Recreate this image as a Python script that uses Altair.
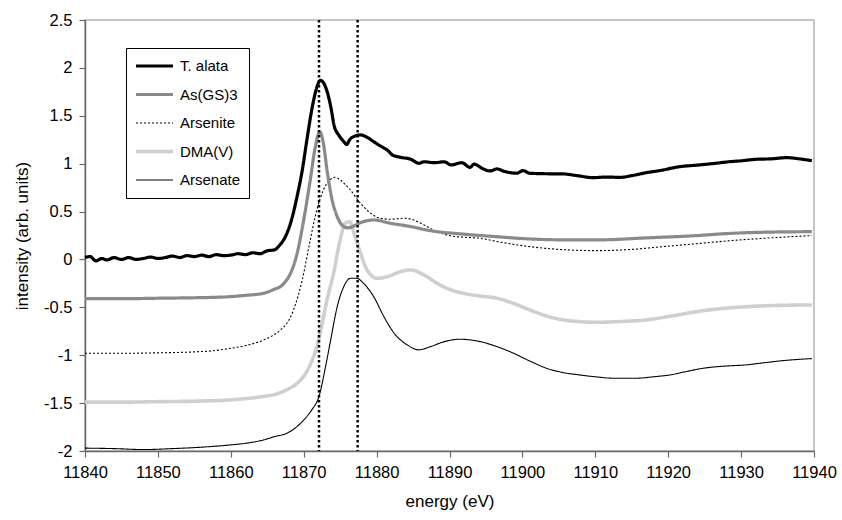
import altair as alt
import pandas as pd

# ---- spectra: energy (eV) and normalised intensity, one pair of arrays per sample ----
talata_e = [11840, 11840.7, 11841.5, 11842.3, 11843, 11844, 11845, 11846, 11847, 11848,
            11849, 11850, 11851, 11852, 11853, 11854, 11855, 11856, 11857, 11858,
            11859, 11860, 11861, 11862, 11863, 11864, 11865, 11866, 11866.6, 11867.5,
            11868.2, 11869.1, 11869.8, 11870.5, 11871.1, 11871.7, 11872.3, 11873, 11873.7, 11874.2,
            11874.8, 11875.5, 11875.9, 11876.3, 11877.1, 11877.8, 11878.7, 11879.6, 11880.5, 11881.5,
            11882.2, 11883.3, 11884.7, 11885.8, 11886.5, 11887.9, 11889.3, 11890.2, 11891.7, 11892.8,
            11893.4, 11894.5, 11895.6, 11896.5, 11897.5, 11899.2, 11900.1, 11901, 11903, 11905.6,
            11907.5, 11909.7, 11911.5, 11913.4, 11915, 11917, 11919, 11921.6, 11924, 11926,
            11928.5, 11930, 11932.1, 11934, 11936.3, 11938, 11939.7]
talata_i = [0.02, 0.03, -0.015, 0.01, -0.005, 0.02, 0.0, 0.02, 0.0, 0.01,
            0.025, 0.01, 0.02, 0.035, 0.02, 0.04, 0.03, 0.045, 0.03, 0.05,
            0.04, 0.045, 0.06, 0.05, 0.07, 0.06, 0.09, 0.10, 0.14, 0.24,
            0.38, 0.66, 0.93, 1.28, 1.56, 1.77, 1.87, 1.80, 1.60, 1.39,
            1.30, 1.23, 1.20, 1.25, 1.29, 1.30, 1.275, 1.23, 1.185, 1.14,
            1.09, 1.066, 1.046, 1.004, 1.02, 1.01, 1.02, 0.987, 1.01, 0.962,
            0.995, 0.95, 0.924, 0.945, 0.92, 0.90, 0.927, 0.90, 0.895, 0.893,
            0.875, 0.854, 0.86, 0.857, 0.875, 0.906, 0.93, 0.969, 0.985, 1.0,
            1.021, 1.03, 1.046, 1.05, 1.063, 1.05, 1.031]

asgs3_e = [11840, 11845, 11850, 11855, 11858, 11860, 11862, 11864.5, 11866, 11866.8,
           11867.5, 11868.2, 11869.1, 11870, 11870.9, 11871.6, 11872.2, 11872.7, 11873.2, 11873.9,
           11874.6, 11875.5, 11876.1, 11876.7, 11877.8, 11879.6, 11881.9, 11884.7, 11887.4, 11891.6,
           11896, 11901, 11905, 11910.2, 11917, 11923.9, 11928, 11933, 11939.7]
asgs3_i = [-0.41, -0.41, -0.405, -0.40, -0.395, -0.388, -0.375, -0.353, -0.31, -0.284,
           -0.23, -0.144, 0.064, 0.412, 0.83, 1.178, 1.334, 1.213, 0.934, 0.621,
           0.447, 0.343, 0.33, 0.343, 0.385, 0.412, 0.378, 0.343, 0.30, 0.266,
           0.24, 0.214, 0.205, 0.204, 0.225, 0.249, 0.27, 0.284, 0.29]

arsenite_e = [11840, 11845, 11850, 11855, 11858, 11860, 11862, 11864.5, 11866.8, 11868,
              11868.6, 11869.8, 11870.9, 11871.8, 11872.7, 11873.6, 11874.3, 11875, 11876.4, 11877.8,
              11879.2, 11880.5, 11881.9, 11883.8, 11885.1, 11886.5, 11888.3, 11890.2, 11892, 11894.2,
              11897, 11901, 11905, 11910.2, 11915, 11919.3, 11924, 11928.5, 11934, 11939.7]
arsenite_i = [-0.98, -0.98, -0.975, -0.965, -0.95, -0.927, -0.90, -0.84, -0.736, -0.63,
              -0.527, -0.214, 0.204, 0.517, 0.725, 0.83, 0.858, 0.83, 0.725, 0.586,
              0.482, 0.43, 0.42, 0.43, 0.412, 0.36, 0.29, 0.245, 0.232, 0.22,
              0.18, 0.134, 0.105, 0.092, 0.105, 0.134, 0.165, 0.196, 0.225, 0.249]

dma_e = [11840, 11845, 11850, 11855, 11860, 11864.5, 11866, 11867.7, 11869, 11870,
         11871, 11871.8, 11872.5, 11873.2, 11874.1, 11875, 11875.7, 11876.3, 11876.9, 11877.8,
         11878.7, 11880.1, 11881.5, 11883.3, 11884.7, 11886.5, 11888.3, 11890.2, 11891.9, 11894,
         11896.5, 11898.8, 11901, 11903.3, 11905.6, 11908, 11910.2, 11913.5, 11917, 11920.5,
         11923.9, 11927, 11930.8, 11935, 11939.7]
dma_i = [-1.49, -1.49, -1.485, -1.48, -1.466, -1.43, -1.41, -1.36, -1.30, -1.22,
         -1.08, -0.91, -0.68, -0.423, -0.144, 0.204, 0.378, 0.395, 0.273, 0.064,
         -0.11, -0.197, -0.179, -0.127, -0.11, -0.162, -0.249, -0.318, -0.353, -0.38,
         -0.405, -0.46, -0.527, -0.59, -0.631, -0.65, -0.656, -0.648, -0.631, -0.59,
         -0.545, -0.515, -0.493, -0.48, -0.475]

arsenate_e = [11840, 11844, 11848, 11852, 11856, 11860, 11862, 11864.5, 11866, 11867.7,
              11869, 11869.8, 11871.1, 11872.1, 11873, 11873.7, 11874.6, 11875.5, 11876.4, 11877.3,
              11878.2, 11879.6, 11881, 11882.4, 11884.2, 11885.8, 11887.4, 11889.3, 11891.4, 11894.2,
              11896.5, 11898.8, 11901, 11903.3, 11905.5, 11907.9, 11910, 11912.5, 11915.7, 11918,
              11920.2, 11922.5, 11924.8, 11927.5, 11930.8, 11933, 11935.8, 11939.7]
arsenate_i = [-1.97, -1.975, -1.985, -1.975, -1.96, -1.936, -1.92, -1.884, -1.85, -1.814,
              -1.75, -1.693, -1.571, -1.43, -1.118, -0.84, -0.492, -0.284, -0.197, -0.197,
              -0.249, -0.388, -0.597, -0.77, -0.892, -0.944, -0.91, -0.858, -0.833, -0.858,
              -0.91, -0.98, -1.06, -1.136, -1.18, -1.206, -1.225, -1.24, -1.24, -1.225,
              -1.206, -1.17, -1.136, -1.115, -1.10, -1.08, -1.056, -1.035]

# reference energies marked by dotted vertical lines
marker_energies = [11872.1, 11877.4]

series_names = ["T. alata", "As(GS)3", "Arsenite", "DMA(V)", "Arsenate"]
series_colors = ["#000000", "#8a8a8a", "#000000", "#cfcfcf", "#000000"]
series_widths = [3.2, 3.2, 1.1, 3.6, 1.1]
series_dashes = [[1, 0], [1, 0], [2, 2], [1, 0], [1, 0]]

spectra = [
    ("Arsenate", arsenate_e, arsenate_i),
    ("DMA(V)", dma_e, dma_i),
    ("Arsenite", arsenite_e, arsenite_i),
    ("As(GS)3", asgs3_e, asgs3_i),
    ("T. alata", talata_e, talata_i),
]
rows = []
for name, es, vals in spectra:
    for e, v in zip(es, vals):
        rows.append({"sample": name, "energy": e, "intensity": v})
df = pd.DataFrame(rows)
markers = pd.DataFrame({"energy": marker_energies})

x_scale = alt.Scale(domain=[11840, 11940], nice=False, zero=False)
y_scale = alt.Scale(domain=[-2, 2.5], nice=False, zero=False)

legend = alt.Legend(
    title=None, orient="none", legendX=41, legendY=28,
    symbolType="stroke", symbolSize=1369, clipHeight=20, rowPadding=8.5,
    labelFont="Liberation Sans", labelFontSize=15, labelColor="#000000",
    labelOffset=5, padding=8, strokeColor="#000000", fillColor="#ffffff",
)

lines = alt.Chart(df).mark_line(interpolate="monotone").encode(
    x=alt.X("energy:Q", scale=x_scale,
            axis=alt.Axis(title="energy (eV)", values=list(range(11840, 11941, 10)),
                          labelExpr="'' + datum.value", labelFlush=False, titlePadding=13)),
    y=alt.Y("intensity:Q", scale=y_scale,
            axis=alt.Axis(title="intensity (arb. units)",
                          values=[-2, -1.5, -1, -0.5, 0, 0.5, 1, 1.5, 2, 2.5],
                          labelExpr="'' + datum.value", labelFlush=False, titlePadding=12)),
    color=alt.Color("sample:N", scale=alt.Scale(domain=series_names, range=series_colors), legend=legend),
    strokeWidth=alt.StrokeWidth("sample:O", scale=alt.Scale(type="ordinal", domain=series_names, range=series_widths), legend=legend),
    strokeDash=alt.StrokeDash("sample:O", scale=alt.Scale(type="ordinal", domain=series_names, range=series_dashes), legend=legend),
    order=alt.Order("energy:Q"),
)

rules = alt.Chart(markers).mark_rule(color="#000000", strokeWidth=2.5, strokeDash=[2.5, 2.5]).encode(
    x=alt.X("energy:Q", scale=x_scale)
)

chart = alt.layer(lines, rules).properties(
    width=729, height=431,
    background="#ffffff",
    autosize=alt.AutoSizeParams(type="none"),
    padding={"left": 85, "top": 20, "right": 28, "bottom": 69},
).configure_view(
    stroke="#b4b4b4", strokeWidth=1.5
).configure_axis(
    domainColor="#6a6a6a", domainWidth=1.5, tickColor="#6a6a6a", tickWidth=1.2, tickSize=6,
    grid=False, labelFont="Liberation Sans", labelFontSize=16.5, labelColor="#000000",
    titleFont="Liberation Sans", titleFontSize=17, titleFontWeight="normal", titleColor="#000000",
    labelPadding=7,
)

chart.save("out.html", embed_options={"renderer": "svg", "actions": False})
